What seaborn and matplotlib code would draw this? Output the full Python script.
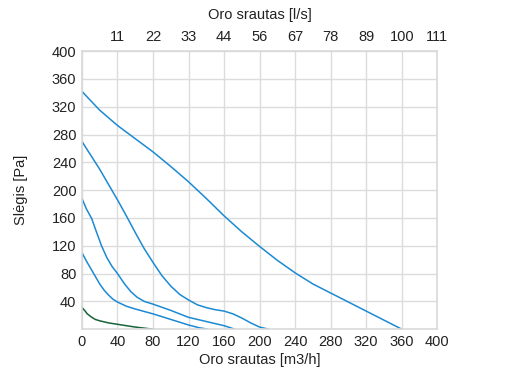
import matplotlib
matplotlib.use('Agg')
import matplotlib.pyplot as plt
import seaborn as sns
import pandas as pd

# Ventiliatoriaus kreivės: oro srautas [m3/h] ir slėgis [Pa]
flow_1 = [0, 20, 40, 60, 80, 100, 120, 140, 160, 180, 200, 220, 240, 260, 280, 300, 320, 340, 360]
pres_1 = [342, 315, 293, 274, 255, 234, 212, 188, 163, 140, 119, 99, 81, 65, 52, 39, 26, 13, 0]

flow_2 = [0, 10, 20, 30, 40, 50, 60, 70, 80, 90, 100, 110, 120, 130, 140, 150, 160, 170, 180, 190, 200, 210]
pres_2 = [270, 250, 230, 208, 186, 163, 139, 116, 96, 77, 62, 50, 42, 35, 31, 28, 26, 22, 16, 9, 3, 0]

flow_3 = [0, 5, 11, 16, 22, 28, 34, 40, 48, 55, 62, 70, 80, 100, 120, 140, 160, 172]
pres_3 = [188, 173, 159, 141, 120, 103, 90, 80, 65, 54, 46, 40, 36, 27, 17, 11, 5, 0]

flow_4 = [0, 5, 10, 15, 20, 25, 30, 35, 40, 50, 60, 80, 100, 120, 132, 142]
pres_4 = [110, 98, 87, 76, 65, 56, 49, 43, 39, 33, 29, 22, 14, 6, 2, 0]

flow_5 = [0, 3, 6, 10, 15, 20, 30, 40, 60, 80]
pres_5 = [31, 27, 22, 18, 14, 12, 9, 7, 3, 0]

x_ticks = [0, 40, 80, 120, 160, 200, 240, 280, 320, 360, 400]
y_ticks = [40, 80, 120, 160, 200, 240, 280, 320, 360, 400]
top_ticks = [40, 80, 120, 160, 200, 240, 280, 320, 360, 400]
top_labels = ['11', '22', '33', '44', '56', '67', '78', '89', '100', '111']

curves = [(flow_1, pres_1, 'k1'), (flow_2, pres_2, 'k2'), (flow_3, pres_3, 'k3'),
          (flow_4, pres_4, 'k4'), (flow_5, pres_5, 'k5')]
rows = []
for fx, py, name in curves:
    for a, b in zip(fx, py):
        rows.append({'srautas': a, 'slegis': b, 'kreive': name})
df = pd.DataFrame(rows)

sns.set_theme(style='whitegrid')
plt.rcParams['font.family'] = ['Liberation Sans', 'DejaVu Sans']
plt.rcParams['axes.edgecolor'] = '#d9d9d9'
plt.rcParams['grid.color'] = '#dcdcdc'

fig = plt.figure(figsize=(5.09, 3.9), dpi=100)
ax = fig.add_axes([0.161, 0.156, 0.698, 0.713])

palette = {'k1': '#1b8ad3', 'k2': '#1b8ad3', 'k3': '#1b8ad3', 'k4': '#1b8ad3', 'k5': '#17633a'}
sns.lineplot(data=df, x='srautas', y='slegis', hue='kreive', palette=palette,
             estimator=None, sort=False, legend=False, linewidth=1.1, ax=ax)

fs = 10.5
ax.set_xlim(0, 400)
ax.set_ylim(0, 400)
ax.set_xticks(x_ticks)
ax.set_yticks(y_ticks)
ax.tick_params(labelsize=fs, colors='#222222', length=0, pad=4)
ax.set_xlabel('Oro srautas [m3/h]', fontsize=fs, color='#222222', labelpad=3)
ax.set_ylabel('Slėgis [Pa]', fontsize=fs, color='#222222', labelpad=17)
for s in ax.spines.values():
    s.set_linewidth(1.2)

# viršutinė ašis l/s
ax2 = ax.twiny()
ax2.set_xlim(0, 400)
ax2.set_xticks(top_ticks)
ax2.set_xticklabels(top_labels)
ax2.grid(False)
ax2.tick_params(labelsize=fs, colors='#222222', length=0, pad=5)
ax2.set_xlabel('Oro srautas [l/s]', fontsize=fs, color='#222222', labelpad=8)
for s in ax2.spines.values():
    s.set_visible(False)

fig.savefig('out.png', dpi=100)
